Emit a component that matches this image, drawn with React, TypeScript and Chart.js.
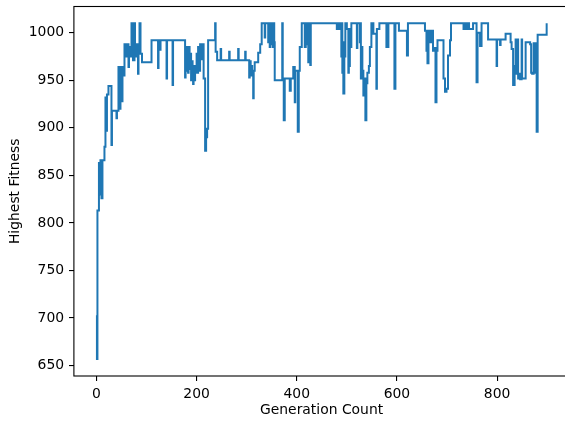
import { useEffect, useRef } from 'react';
import { Chart, registerables } from 'chart.js';

Chart.register(...registerables);

const generations = [
  0, 1, 2, 5, 7, 8, 10, 12, 16, 18, 20, 21, 24, 30, 31, 40, 41, 44, 45, 46, 47, 48, 49, 50, 51, 52, 54, 56, 60, 62,
  64, 65, 68, 70, 73, 76, 77, 80, 83, 84, 86, 88, 91, 110, 123, 124, 127, 128, 140, 141, 152, 153, 177, 178, 180,
  181, 183, 184, 186, 187, 189, 190, 192, 193, 194, 196, 197, 200, 201, 203, 205, 207, 210, 212, 214, 217, 219, 221,
  223, 237, 238, 241, 248, 249, 265, 266, 283, 284, 297, 298, 305, 306, 308, 309, 311, 313, 314, 316, 323, 327, 330,
  336, 337, 343, 344, 346, 347, 349, 350, 352, 353, 355, 356, 371, 372, 374, 376, 386, 388, 393, 396, 397, 402, 404,
  406, 410, 416, 418, 420, 421, 423, 424, 427, 428, 480, 483, 485, 487, 489, 490, 491, 492, 493, 495, 497, 500, 503,
  504, 505, 506, 508, 509, 520, 521, 526, 527, 528, 530, 531, 533, 535, 537, 539, 541, 544, 546, 549, 553, 559, 560,
  565, 579, 583, 595, 597, 604, 620, 622, 656, 659, 660, 661, 663, 667, 670, 672, 675, 677, 679, 681, 693, 696, 699,
  702, 706, 708, 733, 735, 738, 741, 744, 752, 759, 761, 766, 769, 782, 799, 800, 806, 807, 817, 827, 829, 832, 835,
  837, 839, 841, 842, 844, 846, 849, 850, 857, 866, 868, 870, 873, 877, 879, 881, 899,
];

const fitness = [
  703, 657, 813, 863, 830, 866, 826, 866, 880, 932, 897, 935, 944, 882, 918, 910, 918, 964, 925, 964, 920, 960, 935,
  964, 928, 964, 955, 988, 975, 988, 964, 985, 975, 1010, 971, 1010, 975, 988, 957, 985, 1010, 978, 969, 992, 963,
  992, 982, 992, 952, 992, 945, 992, 953, 985, 960, 975, 958, 985, 962, 978, 950, 970, 960, 946, 965, 950, 964, 978,
  958, 985, 960, 988, 972, 988, 952, 876, 890, 899, 992, 1010, 980, 971, 983, 971, 980, 971, 983, 971, 980, 971, 953,
  970, 955, 965, 958, 931, 960, 969, 979, 988, 1010, 995, 1010, 990, 1010, 985, 1010, 988, 1010, 985, 1010, 990, 950,
  1010, 950, 908, 952, 939, 952, 964, 927, 960, 896, 960, 985, 1010, 985, 1010, 988, 1010, 969, 1010, 966, 1010,
  1004, 1010, 1004, 1010, 975, 1010, 958, 990, 936, 975, 1010, 1004, 958, 985, 965, 1004, 985, 1010, 984, 1010, 990,
  1010, 952, 985, 960, 934, 952, 908, 947, 958, 965, 985, 1010, 999, 941, 1004, 1010, 985, 1010, 941, 1010, 1002,
  976, 1010, 1002, 981, 1002, 968, 1002, 990, 1002, 981, 984, 927, 981, 992, 952, 938, 941, 976, 992, 1010, 1004,
  1010, 1004, 1010, 1004, 1010, 948, 1000, 986, 1010, 993, 965, 993, 987, 993, 999, 990, 983, 945, 965, 993, 957, 993,
  952, 957, 951, 993, 952, 990, 988, 958, 957, 989, 958, 896, 998, 1010,
];

const xTickValues = [0, 200, 400, 600, 800];
const yTickValues = [650, 700, 750, 800, 850, 900, 950, 1000];

const FONT = { family: 'DejaVu Sans', size: 13.9 };

export default function App() {
  const ref = useRef<HTMLCanvasElement>(null);

  useEffect(() => {
    const spines = {
      id: 'spines',
      afterDatasetsDraw(chart: any) {
        const { ctx, chartArea: a } = chart;
        ctx.save();
        ctx.strokeStyle = '#000';
        ctx.lineWidth = 1.1;
        ctx.strokeRect(a.left, a.top, a.right - a.left, a.bottom - a.top);
        ctx.restore();
      },
    };

    const chart = new Chart(ref.current as HTMLCanvasElement, {
      type: 'line',
      data: {
        datasets: [
          {
            data: generations.map((g, i) => ({ x: g, y: fitness[i] })),
            borderColor: '#1f77b4',
            borderWidth: 2,
            pointRadius: 0,
            stepped: true,
            fill: false,
            tension: 0,
          },
        ],
      },
      options: {
        animation: false,
        responsive: false,
        devicePixelRatio: 1,
        layout: { padding: { left: 0, top: 6.5, right: 10.8, bottom: 0 } },
        plugins: { legend: { display: false }, tooltip: { enabled: false } },
        scales: {
          x: {
            type: 'linear',
            min: -45,
            max: 944,
            afterBuildTicks: (s: any) => {
              s.ticks = xTickValues.map((v) => ({ value: v }));
            },
            afterFit: (s: any) => {
              s.height = 45;
              s.paddingLeft = 0;
              s.paddingRight = 0;
            },
            ticks: {
              color: '#000',
              font: FONT,
              padding: 4.9,
              maxRotation: 0,
              autoSkip: false,
              callback: (v: any) => String(v),
            },
            grid: { drawOnChartArea: false, drawTicks: true, tickLength: 4.9, color: '#000', lineWidth: 1.1 },
            border: { display: false },
            title: {
              display: true,
              text: 'Generation Count',
              color: '#000',
              font: FONT,
              padding: { top: 0, bottom: 2 },
            },
          },
          y: {
            type: 'linear',
            min: 639,
            max: 1027.6,
            afterBuildTicks: (s: any) => {
              s.ticks = yTickValues.map((v) => ({ value: v }));
            },
            afterFit: (s: any) => {
              s.width = 73.9;
              s.paddingTop = 0;
              s.paddingBottom = 0;
            },
            ticks: {
              color: '#000',
              font: FONT,
              padding: 4.9,
              autoSkip: false,
              callback: (v: any) => String(v),
            },
            grid: { drawOnChartArea: false, drawTicks: true, tickLength: 4.9, color: '#000', lineWidth: 1.1 },
            border: { display: false },
            title: {
              display: true,
              text: 'Highest Fitness',
              color: '#000',
              font: FONT,
              padding: { top: 7.5, bottom: 0 },
            },
          },
        },
      },
      plugins: [spines],
    });

    return () => chart.destroy();
  }, []);

  return (
    <div
      style={{
        position: 'fixed',
        left: 0,
        top: 0,
        width: 565,
        height: 421,
        overflow: 'hidden',
        background: '#fff',
      }}
    >
      <canvas ref={ref} width={580} height={421} style={{ display: 'block' }} />
    </div>
  );
}
